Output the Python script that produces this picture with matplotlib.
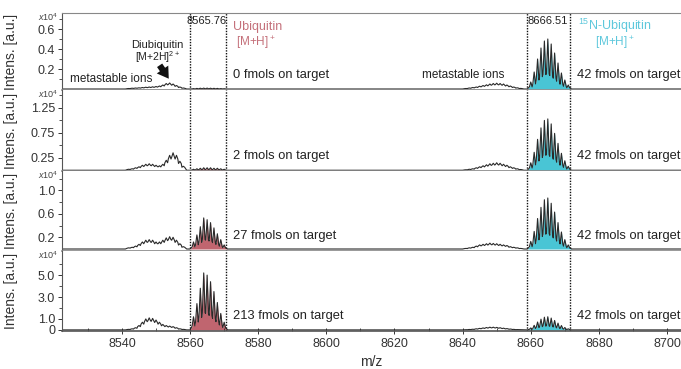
import matplotlib
matplotlib.use("Agg")
import matplotlib.pyplot as plt
from matplotlib.ticker import FixedLocator

plt.rcParams['font.family'] = ['Liberation Sans', 'DejaVu Sans']
plt.rcParams['mathtext.fontset'] = 'custom'
plt.rcParams['mathtext.rm'] = 'Liberation Sans'
plt.rcParams['mathtext.it'] = 'Liberation Sans:italic'

# ---- data (intensities in units of 10^4) ----
amounts = ["0", "2", "27", "213"]

# broad feature left of ubiquitin (diubiquitin [M+2H]2+ and metastable ions)
left_mz = [8542, 8543, 8544, 8545, 8546, 8547, 8548, 8549, 8550, 8551, 8552,
           8553, 8554, 8555, 8556, 8557, 8558]
left_p1 = [0.005, 0.008, 0.01, 0.012, 0.015, 0.018, 0.02, 0.022, 0.025, 0.03,
           0.04, 0.055, 0.06, 0.05, 0.035, 0.02, 0.01]
left_p2 = [0.02, 0.03, 0.05, 0.07, 0.1, 0.12, 0.13, 0.12, 0.1, 0.09, 0.12,
           0.2, 0.3, 0.35, 0.3, 0.18, 0.08]
left_p3 = [0.02, 0.03, 0.05, 0.08, 0.12, 0.15, 0.16, 0.15, 0.12, 0.12, 0.15,
           0.19, 0.21, 0.2, 0.15, 0.09, 0.04]
left_p4 = [0.05, 0.1, 0.2, 0.4, 0.7, 1.0, 1.1, 1.05, 0.9, 0.7, 0.5, 0.4, 0.35,
           0.3, 0.2, 0.1, 0.05]

# ubiquitin [M+H]+ isotope peaks
ubi_mz = [8561, 8562, 8563, 8564, 8565, 8566, 8567, 8568, 8569, 8570]
ubi_p1 = [0.004, 0.006, 0.008, 0.009, 0.009, 0.008, 0.007, 0.006, 0.004, 0.003]
ubi_p2 = [0.02, 0.03, 0.04, 0.05, 0.05, 0.05, 0.04, 0.04, 0.03, 0.02]
ubi_p3 = [0.12, 0.24, 0.38, 0.53, 0.5, 0.45, 0.36, 0.26, 0.16, 0.07]
ubi_p4 = [1.2, 2.4, 3.8, 5.2, 5.0, 4.4, 3.5, 2.5, 1.5, 0.7]

# metastable ions of the 15N standard
meta_mz = [8641, 8642, 8643, 8644, 8645, 8646, 8647, 8648, 8649, 8650, 8651,
           8652, 8653, 8654, 8655, 8656, 8657]
meta_p1 = [0.005, 0.01, 0.015, 0.02, 0.028, 0.035, 0.042, 0.05, 0.055, 0.058,
           0.055, 0.05, 0.04, 0.03, 0.02, 0.012, 0.006]
meta_p2 = [0.01, 0.02, 0.03, 0.05, 0.07, 0.09, 0.11, 0.13, 0.14, 0.15, 0.14,
           0.12, 0.1, 0.07, 0.05, 0.03, 0.015]
meta_p3 = [0.01, 0.02, 0.03, 0.05, 0.07, 0.08, 0.09, 0.1, 0.095, 0.09, 0.08,
           0.07, 0.06, 0.04, 0.03, 0.02, 0.01]
meta_p4 = [0.02, 0.04, 0.06, 0.1, 0.14, 0.18, 0.22, 0.25, 0.25, 0.23, 0.2,
           0.16, 0.12, 0.08, 0.05, 0.03, 0.02]

# 15N-ubiquitin [M+H]+ isotope peaks (42 fmol standard)
n15_mz = [8660, 8661, 8662, 8663, 8664, 8665, 8666, 8667, 8668, 8669, 8670, 8671]
n15_p1 = [0.07, 0.17, 0.3, 0.41, 0.48, 0.5, 0.45, 0.36, 0.26, 0.16, 0.09, 0.04]
n15_p2 = [0.15, 0.36, 0.62, 0.85, 1.0, 1.03, 0.93, 0.74, 0.54, 0.34, 0.19, 0.08]
n15_p3 = [0.13, 0.3, 0.52, 0.71, 0.84, 0.87, 0.78, 0.63, 0.45, 0.29, 0.16, 0.07]
n15_p4 = [0.18, 0.42, 0.72, 0.98, 1.16, 1.2, 1.08, 0.86, 0.62, 0.4, 0.22, 0.1]

ubi_box = (8560, 8570.6)
n15_box = (8659, 8671.5)

# per panel axis setup
ylims = [(-0.01, 0.76), (-0.015, 1.61), (-0.034, 1.33), (-0.1, 7.2)]
yticks = [[0.2, 0.4, 0.6], [0.25, 0.75, 1.25], [0.2, 0.6, 1.0], [0, 1.0, 3.0, 5.0]]
ytick_labels = [["0.2", "0.4", "0.6"], ["0.25", "0.75", "1.25"],
                ["0.2", "0.6", "1.0"], ["0", "1.0", "3.0", "5.0"]]
yminor = [[0.1, 0.3, 0.5, 0.7], [0.5, 1.0, 1.5], [0.4, 0.8, 1.2], [2.0, 4.0, 6.0]]
xticks = [8540, 8560, 8580, 8600, 8620, 8640, 8660, 8680, 8700]

panels = [
    (left_p1, ubi_p1, meta_p1, n15_p1),
    (left_p2, ubi_p2, meta_p2, n15_p2),
    (left_p3, ubi_p3, meta_p3, n15_p3),
    (left_p4, ubi_p4, meta_p4, n15_p4),
]

W, H = 681, 369
XLIM = (8522.4, 8704.1)
panel_px = [(13, 90), (90, 171), (171, 251), (251, 331)]
LINE = '#2a2a2a'
RED = '#b9545f'
CYAN = '#3fc2d3'
TXT = '#222222'


def segment(mz, h, frac):
    # comb of peaks sitting on a fraction of their own height
    xs, ys = [mz[0] - 1], [0.0]
    for m, v in zip(mz, h):
        xs += [m - 0.4, m, m + 0.4]
        ys += [v * frac, v, v * frac]
    xs.append(mz[-1] + 1)
    ys.append(0.0)
    return xs, ys


def ftxt(x, y, s, **kw):
    kw.setdefault('color', TXT)
    kw.setdefault('va', 'center')
    fig.text(x / W, 1 - y / H, s, **kw)


fig = plt.figure(figsize=(W / 100, H / 100), dpi=100)
axes = []
for i, (top, bot) in enumerate(panel_px):
    ax = fig.add_axes([62 / W, 1 - bot / H, (W - 62) / W, (bot - top) / H])
    axes.append(ax)
    left_h, ubi_h, meta_h, n15_h = panels[i]

    lx, ly = segment(left_mz, left_h, 0.75)
    ux, uy = segment(ubi_mz, ubi_h, 0.3)
    mx, my = segment(meta_mz, meta_h, 0.75)
    nx, ny = segment(n15_mz, n15_h, 0.3)

    ax.fill_between(ux, uy, 0, color=RED, lw=0, alpha=0.9)
    ax.fill_between(nx, ny, 0, color=CYAN, lw=0, alpha=0.95)
    xs = [XLIM[0]] + lx + ux + mx + nx + [XLIM[1]]
    ys = [0.0] + ly + uy + my + ny + [0.0]
    ax.plot(xs, ys, color=LINE, lw=0.8)

    for bx in ubi_box + n15_box:
        ax.axvline(bx, color='#111111', lw=1.0, ls=(0, (1, 1)))

    ax.set_xlim(*XLIM)
    ax.set_ylim(*ylims[i])
    ax.set_yticks(yticks[i])
    ax.set_yticklabels(ytick_labels[i])
    ax.yaxis.set_minor_locator(FixedLocator(yminor[i]))
    ax.tick_params(axis='y', which='major', length=3, width=0.7, pad=2,
                   labelsize=9, colors='#333333')
    ax.tick_params(axis='y', which='minor', length=2, width=0.6, colors='#333333')
    ax.spines['right'].set_visible(False)
    ax.spines['top'].set_visible(i == 0)
    ax.spines['top'].set_color('#888888')
    ax.spines['left'].set_color('#555555')
    ax.spines['bottom'].set_color('#888888' if i < 3 else '#555555')
    ax.spines['bottom'].set_linewidth(1.2)
    ax.set_ylabel('Intens. [a.u.]', fontsize=10, color='#333333')
    ax.yaxis.set_label_coords(-0.071, 0.5)
    if i < 3:
        ax.set_xticks([])
    else:
        ax.set_xticks(xticks)
        ax.xaxis.set_minor_locator(FixedLocator([8530, 8550, 8570, 8590, 8610,
                                                 8630, 8650, 8670, 8690]))
        ax.tick_params(axis='x', which='major', direction='inout', length=4,
                       width=0.7, labelsize=9, colors='#333333', pad=3)
        ax.tick_params(axis='x', which='minor', direction='in', length=2,
                       width=0.6, colors='#333333')
        ax.set_xlabel('m/z', fontsize=10, color='#333333', labelpad=4)
    ftxt(58, top + 4, r'$\mathit{x10^4}$', fontsize=6.5, ha='right',
         color='#444444')

# annotations
ftxt(207, 21, '8565.76', fontsize=8, ha='center')
ftxt(548, 21, '8666.51', fontsize=8, ha='center')
ftxt(233, 27, 'Ubiquitin', fontsize=9, ha='left', color='#c4707a')
ftxt(256, 43, r'[M+H]$^+$', fontsize=8.5, ha='center', color='#c4707a')
ftxt(578, 26, r'$^{15}$N-Ubiquitin', fontsize=9, ha='left', color='#5ec8dc')
ftxt(615, 43, r'[M+H]$^+$', fontsize=8.5, ha='center', color='#5ec8dc')

ftxt(70, 79, 'metastable ions', fontsize=8.5, ha='left')
ftxt(422, 75, 'metastable ions', fontsize=8.5, ha='left')
ftxt(157, 45, 'Diubiquitin', fontsize=8, ha='center')
ftxt(157, 57, r'[M+2H]$^{2+}$', fontsize=7.5, ha='center')
axes[0].annotate('', xy=(8554.2, 0.08), xytext=(8550.6, 0.26),
                 arrowprops=dict(arrowstyle='simple,head_width=1.0,head_length=0.8,tail_width=0.45',
                                 mutation_scale=10, color='#111111', lw=0))

for amt, (top, bot) in zip(amounts, panel_px):
    y = bot - 15
    ftxt(233, y, f'{amt} fmols on target', fontsize=9.3, ha='left')
    ftxt(577, y, '42 fmols on target', fontsize=9.3, ha='left')

fig.savefig('out.png', dpi=100)
